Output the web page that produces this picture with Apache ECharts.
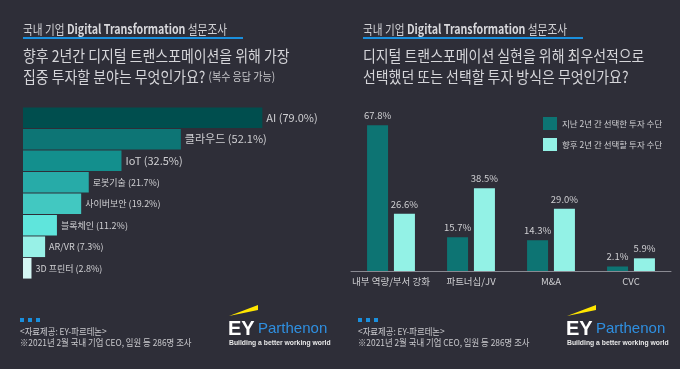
<!DOCTYPE html>
<html><head><meta charset="utf-8">
<script src="https://cdn.jsdelivr.net/npm/echarts@6/dist/echarts.min.js"></script>
<style>html,body{margin:0;padding:0;background:#2e2e38;}#c{width:680px;height:369px;}</style>
</head><body><div id="c"></div>
<script>
const leftCategories = ['AI','클라우드','IoT','로봇기술','사이버보안','블록체인','AR/VR','3D 프린터'];
const leftValues = [79.0,52.1,32.5,21.7,19.2,11.2,7.3,2.8];
const rightCategories = ['내부 역량/부서 강화','파트너십/JV','M&A','CVC'];
const seriesNames = ['지난 2년 간 선택한 투자 수단','향후 2년 간 선택할 투자 수단'];
const pastValues = [67.8,15.7,14.3,2.1];
const futureValues = [26.6,38.5,29.0,5.9];

const leftColors = ['#004e4e','#0d7575','#138f8d','#27aba8','#42c8c1','#5fe5dc','#98f1e7','#d5f7f4'];
const FONT = '"Noto Sans CJK KR", "Noto Sans", sans-serif';
const TXT = '#cfcfd2';

function header(x){
  return [
    {type:'text', x:x, y:23, scaleX:0.82, style:{text:'국내 기업 {b|Digital Transformation} 설문조사', fill:'#d0d0d4', font:'13px '+FONT,
      rich:{b:{fontWeight:'bold', fontSize:13, fontFamily:FONT, fill:'#d8d8dc'}}}},
    {type:'rect', shape:{x:x, y:37, width:220, height:2}, style:{fill:'#1a8fdd'}}
  ];
}
function footer(x){
  return [
    {type:'rect', shape:{x:x, y:318, width:4, height:4}, style:{fill:'#1a8fdd'}},
    {type:'rect', shape:{x:x+8, y:318, width:4, height:4}, style:{fill:'#1a8fdd'}},
    {type:'rect', shape:{x:x+16, y:318, width:4, height:4}, style:{fill:'#1a8fdd'}},
    {type:'text', x:x, y:327, scaleX:0.88, style:{text:'<자료제공: EY-파르테논>', fill:'#c8c8cc', font:'9.5px '+FONT}},
    {type:'text', x:x, y:338, scaleX:0.88, style:{text:'※2021년 2월 국내 기업 CEO, 임원 등 286명 조사', fill:'#c8c8cc', font:'9.5px '+FONT}},
    {type:'polygon', shape:{points:[[x+209,316],[x+238,305],[x+238,310]]}, style:{fill:'#ffe600'}},
    {type:'text', x:x+208, y:319, style:{text:'EY', fill:'#ffffff', font:'bold 20px "Liberation Sans", sans-serif'}},
    {type:'text', x:x+238, y:321, style:{text:'Parthenon', fill:'#2f8fe0', font:'15px "Liberation Sans", sans-serif'}},
    {type:'text', x:x+209, y:339, scaleX:0.85, style:{text:'Building a better working world', fill:'#e8e8e8', font:'bold 8px "Liberation Sans", sans-serif'}}
  ];
}

const graphics = [].concat(
  header(23), header(363), footer(20), footer(358),
  [
    {type:'text', x:23, y:45, scaleX:0.87, style:{text:'향후 2년간 디지털 트랜스포메이션을 위해 가장\n집중 투자할 분야는 무엇인가요? {s|(복수 응답 가능)}', fill:'#d6d6da', font:'16px '+FONT, lineHeight:21,
      rich:{s:{fontSize:11.5, fontFamily:FONT, fill:'#c8c8cc', lineHeight:21}}}},
    {type:'text', x:363, y:45, scaleX:0.87, style:{text:'디지털 트랜스포메이션 실현을 위해 최우선적으로\n선택했던 또는 선택할 투자 방식은 무엇인가요?', fill:'#d6d6da', font:'16px '+FONT, lineHeight:21}}
  ]
);

const chart = echarts.init(document.getElementById('c'));
chart.setOption({
  backgroundColor:'#2e2e38',
  textStyle:{fontFamily:FONT},
  grid:[
    {left:23, top:107, width:303, height:172},
    {left:351, top:99, width:320, height:172}
  ],
  xAxis:[
    {gridIndex:0, type:'value', min:0, max:100, show:false},
    {gridIndex:1, type:'category', data:rightCategories,
      axisLine:{lineStyle:{color:'#8a8a92', width:1}}, axisTick:{show:false},
      axisLabel:{color:TXT, fontSize:9.5, margin:6, interval:0}}
  ],
  yAxis:[
    {gridIndex:0, type:'category', data:leftCategories, inverse:true, show:false},
    {gridIndex:1, type:'value', min:0, max:80, show:false}
  ],
  legend:{orient:'vertical', left:538, top:112, itemWidth:14, itemHeight:13, itemGap:8,
    textStyle:{color:TXT, fontSize:8.5}, data:seriesNames, icon:'rect'},
  series:[
    {type:'bar', xAxisIndex:0, yAxisIndex:0, barCategoryGap:'4%',
      data:leftValues.map((v,i)=>({value:v, itemStyle:{color:leftColors[i]},
        label:{fontSize: i<3?11:9}})),
      label:{show:true, position:'right', distance:4, color:TXT,
        formatter:p=>p.name+' ('+p.value.toFixed(1)+'%)'}},
    {type:'bar', name:seriesNames[0], xAxisIndex:1, yAxisIndex:1, data:pastValues, barWidth:21, barGap:'28%',
      itemStyle:{color:'#0d7473'},
      label:{show:true, position:'top', distance:5, color:TXT, fontSize:9.5, formatter:p=>p.value.toFixed(1)+'%'}},
    {type:'bar', name:seriesNames[1], xAxisIndex:1, yAxisIndex:1, data:futureValues, barWidth:21, barGap:'28%',
      itemStyle:{color:'#93f2e6'},
      label:{show:true, position:'top', distance:5, color:TXT, fontSize:9.5, formatter:p=>p.value.toFixed(1)+'%'}}
  ],
  graphic:graphics
});
</script></body></html>
